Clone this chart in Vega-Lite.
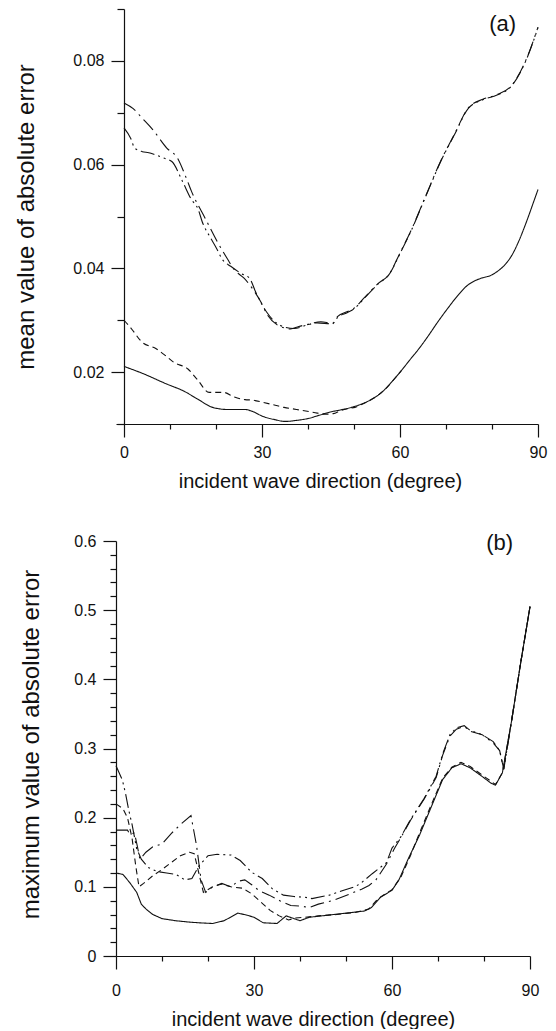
{
  "$schema": "https://vega.github.io/schema/vega-lite/v6.json",
  "background": "white",
  "padding": {"left": 14, "top": 1, "right": 5, "bottom": 0},
  "config": {
    "view": {"stroke": null},
    "font": "Liberation Sans",
    "axis": {
      "grid": false,
      "domainColor": "#111",
      "tickColor": "#111",
      "labelColor": "#111",
      "titleColor": "#111",
      "domainWidth": 1.2,
      "tickWidth": 1.2,
      "labelFont": "Liberation Sans",
      "titleFont": "Liberation Sans",
      "labelFontSize": 16,
      "titleFontWeight": "normal",
      "labelFlush": false,
      "labelOverlap": false
    }
  },
  "datasets": {
    "a": [
      {"deg": 0, "err": 0.0211, "s": "solid"}, {"deg": 3.9, "err": 0.0198, "s": "solid"}, {"deg": 9.3, "err": 0.0177, "s": "solid"}, {"deg": 13.1, "err": 0.0163, "s": "solid"}, {"deg": 16, "err": 0.0148, "s": "solid"}, {"deg": 19.3, "err": 0.0132, "s": "solid"}, {"deg": 22.4, "err": 0.0128, "s": "solid"}, {"deg": 26.3, "err": 0.0128, "s": "solid"}, {"deg": 28, "err": 0.0124, "s": "solid"}, {"deg": 30.1, "err": 0.0115, "s": "solid"}, {"deg": 32.5, "err": 0.0109, "s": "solid"}, {"deg": 35.1, "err": 0.0105, "s": "solid"}, {"deg": 37.5, "err": 0.0107, "s": "solid"}, {"deg": 40.2, "err": 0.0111, "s": "solid"}, {"deg": 42.5, "err": 0.0117, "s": "solid"}, {"deg": 44.8, "err": 0.0123, "s": "solid"}, {"deg": 47, "err": 0.0127, "s": "solid"}, {"deg": 49.4, "err": 0.0132, "s": "solid"}, {"deg": 51.5, "err": 0.0138, "s": "solid"}, {"deg": 53.3, "err": 0.0145, "s": "solid"}, {"deg": 55, "err": 0.0154, "s": "solid"}, {"deg": 56.4, "err": 0.0164, "s": "solid"}, {"deg": 58.3, "err": 0.0182, "s": "solid"}, {"deg": 60.3, "err": 0.0203, "s": "solid"}, {"deg": 62, "err": 0.0222, "s": "solid"}, {"deg": 64.1, "err": 0.0245, "s": "solid"}, {"deg": 66, "err": 0.0268, "s": "solid"}, {"deg": 68, "err": 0.0294, "s": "solid"}, {"deg": 70.3, "err": 0.0322, "s": "solid"}, {"deg": 72.6, "err": 0.0348, "s": "solid"}, {"deg": 74.5, "err": 0.0366, "s": "solid"}, {"deg": 76.5, "err": 0.0377, "s": "solid"}, {"deg": 78, "err": 0.0382, "s": "solid"}, {"deg": 79.6, "err": 0.0386, "s": "solid"}, {"deg": 81, "err": 0.0393, "s": "solid"}, {"deg": 82.7, "err": 0.0406, "s": "solid"}, {"deg": 84.3, "err": 0.0425, "s": "solid"}, {"deg": 85.8, "err": 0.0452, "s": "solid"}, {"deg": 87.5, "err": 0.049, "s": "solid"}, {"deg": 89, "err": 0.0527, "s": "solid"}, {"deg": 90, "err": 0.0552, "s": "solid"},
      {"deg": 0, "err": 0.03, "s": "dashed"}, {"deg": 1.5, "err": 0.0285, "s": "dashed"}, {"deg": 3.9, "err": 0.0258, "s": "dashed"}, {"deg": 7, "err": 0.0245, "s": "dashed"}, {"deg": 9, "err": 0.0232, "s": "dashed"}, {"deg": 10.8, "err": 0.0219, "s": "dashed"}, {"deg": 13.9, "err": 0.0206, "s": "dashed"}, {"deg": 16, "err": 0.0185, "s": "dashed"}, {"deg": 18.5, "err": 0.0161, "s": "dashed"}, {"deg": 21.6, "err": 0.0161, "s": "dashed"}, {"deg": 24, "err": 0.0152, "s": "dashed"}, {"deg": 26.3, "err": 0.0147, "s": "dashed"}, {"deg": 28, "err": 0.0146, "s": "dashed"}, {"deg": 30.1, "err": 0.0142, "s": "dashed"}, {"deg": 32.5, "err": 0.0137, "s": "dashed"}, {"deg": 34.8, "err": 0.0132, "s": "dashed"}, {"deg": 37.5, "err": 0.0128, "s": "dashed"}, {"deg": 40.2, "err": 0.0124, "s": "dashed"}, {"deg": 42, "err": 0.0121, "s": "dashed"}, {"deg": 44, "err": 0.0119, "s": "dashed"}, {"deg": 45.5, "err": 0.012, "s": "dashed"}, {"deg": 47.1, "err": 0.0126, "s": "dashed"}, {"deg": 49, "err": 0.013, "s": "dashed"}, {"deg": 50.2, "err": 0.0132, "s": "dashed"}, {"deg": 51.5, "err": 0.0137, "s": "dashed"}, {"deg": 53.3, "err": 0.0145, "s": "dashed"}, {"deg": 55, "err": 0.0154, "s": "dashed"}, {"deg": 56.4, "err": 0.0164, "s": "dashed"}, {"deg": 58.3, "err": 0.0182, "s": "dashed"}, {"deg": 60.3, "err": 0.0203, "s": "dashed"},
      {"deg": 0, "err": 0.0719, "s": "dashdot"}, {"deg": 2, "err": 0.0708, "s": "dashdot"}, {"deg": 3.9, "err": 0.069, "s": "dashdot"}, {"deg": 6.2, "err": 0.0668, "s": "dashdot"}, {"deg": 9.3, "err": 0.0632, "s": "dashdot"}, {"deg": 11.6, "err": 0.0613, "s": "dashdot"}, {"deg": 13.5, "err": 0.0575, "s": "dashdot"}, {"deg": 14.7, "err": 0.0548, "s": "dashdot"}, {"deg": 17.8, "err": 0.0494, "s": "dashdot"}, {"deg": 20.3, "err": 0.0451, "s": "dashdot"}, {"deg": 22.5, "err": 0.0418, "s": "dashdot"}, {"deg": 24, "err": 0.0397, "s": "dashdot"}, {"deg": 26.1, "err": 0.0381, "s": "dashdot"}, {"deg": 28, "err": 0.036, "s": "dashdot"}, {"deg": 29.7, "err": 0.0336, "s": "dashdot"}, {"deg": 31.2, "err": 0.031, "s": "dashdot"}, {"deg": 33.3, "err": 0.0291, "s": "dashdot"}, {"deg": 35, "err": 0.0285, "s": "dashdot"}, {"deg": 36.2, "err": 0.0283, "s": "dashdot"}, {"deg": 38, "err": 0.0288, "s": "dashdot"}, {"deg": 40, "err": 0.0292, "s": "dashdot"}, {"deg": 42.8, "err": 0.0297, "s": "dashdot"}, {"deg": 45.3, "err": 0.0294, "s": "dashdot"}, {"deg": 46.4, "err": 0.0307, "s": "dashdot"}, {"deg": 48.6, "err": 0.0317, "s": "dashdot"}, {"deg": 50, "err": 0.0323, "s": "dashdot"}, {"deg": 52.2, "err": 0.0343, "s": "dashdot"}, {"deg": 55.4, "err": 0.0372, "s": "dashdot"}, {"deg": 57.6, "err": 0.0388, "s": "dashdot"}, {"deg": 59.8, "err": 0.0426, "s": "dashdot"}, {"deg": 62.6, "err": 0.0477, "s": "dashdot"}, {"deg": 65.7, "err": 0.0542, "s": "dashdot"}, {"deg": 68.8, "err": 0.0606, "s": "dashdot"}, {"deg": 71.8, "err": 0.0658, "s": "dashdot"}, {"deg": 74.9, "err": 0.071, "s": "dashdot"}, {"deg": 78, "err": 0.0726, "s": "dashdot"}, {"deg": 81.1, "err": 0.0735, "s": "dashdot"}, {"deg": 84.2, "err": 0.0752, "s": "dashdot"}, {"deg": 87.3, "err": 0.08, "s": "dashdot"}, {"deg": 90, "err": 0.0865, "s": "dashdot"},
      {"deg": 0, "err": 0.0671, "s": "dashdotdot"}, {"deg": 1.5, "err": 0.065, "s": "dashdotdot"}, {"deg": 2.3, "err": 0.0632, "s": "dashdotdot"}, {"deg": 4, "err": 0.0625, "s": "dashdotdot"}, {"deg": 5.4, "err": 0.0623, "s": "dashdotdot"}, {"deg": 6.5, "err": 0.062, "s": "dashdotdot"}, {"deg": 8.5, "err": 0.0613, "s": "dashdotdot"}, {"deg": 10.4, "err": 0.0606, "s": "dashdotdot"}, {"deg": 12.7, "err": 0.0568, "s": "dashdotdot"}, {"deg": 14.5, "err": 0.0535, "s": "dashdotdot"}, {"deg": 16.2, "err": 0.0512, "s": "dashdotdot"}, {"deg": 17, "err": 0.049, "s": "dashdotdot"}, {"deg": 18.8, "err": 0.0459, "s": "dashdotdot"}, {"deg": 20.1, "err": 0.0439, "s": "dashdotdot"}, {"deg": 21.4, "err": 0.0417, "s": "dashdotdot"}, {"deg": 23.2, "err": 0.0404, "s": "dashdotdot"}, {"deg": 25.5, "err": 0.039, "s": "dashdotdot"}, {"deg": 27.3, "err": 0.0381, "s": "dashdotdot"}, {"deg": 28.6, "err": 0.0355, "s": "dashdotdot"}, {"deg": 31, "err": 0.0316, "s": "dashdotdot"}, {"deg": 34, "err": 0.029, "s": "dashdotdot"}, {"deg": 37, "err": 0.0284, "s": "dashdotdot"}, {"deg": 39.5, "err": 0.029, "s": "dashdotdot"}, {"deg": 42, "err": 0.0295, "s": "dashdotdot"}, {"deg": 45.3, "err": 0.0293, "s": "dashdotdot"}, {"deg": 46.4, "err": 0.0305, "s": "dashdotdot"}, {"deg": 48.6, "err": 0.0315, "s": "dashdotdot"}, {"deg": 50, "err": 0.0322, "s": "dashdotdot"}, {"deg": 52.2, "err": 0.0342, "s": "dashdotdot"}, {"deg": 55.4, "err": 0.0371, "s": "dashdotdot"}, {"deg": 57.6, "err": 0.0388, "s": "dashdotdot"}, {"deg": 59.8, "err": 0.0425, "s": "dashdotdot"}, {"deg": 62.6, "err": 0.0476, "s": "dashdotdot"}, {"deg": 65.7, "err": 0.0541, "s": "dashdotdot"}, {"deg": 68.8, "err": 0.0605, "s": "dashdotdot"}, {"deg": 71.8, "err": 0.0657, "s": "dashdotdot"}, {"deg": 74.9, "err": 0.0709, "s": "dashdotdot"}, {"deg": 78, "err": 0.0725, "s": "dashdotdot"}, {"deg": 81.1, "err": 0.0734, "s": "dashdotdot"}, {"deg": 84.2, "err": 0.0751, "s": "dashdotdot"}, {"deg": 87.3, "err": 0.0799, "s": "dashdotdot"}, {"deg": 90, "err": 0.0864, "s": "dashdotdot"}
    ],
    "b": [
      {"deg": 0, "err": 0.12, "s": "solid"}, {"deg": 1.5, "err": 0.118, "s": "solid"}, {"deg": 3, "err": 0.106, "s": "solid"}, {"deg": 4.5, "err": 0.092, "s": "solid"}, {"deg": 5.5, "err": 0.075, "s": "solid"}, {"deg": 6.5, "err": 0.068, "s": "solid"}, {"deg": 8, "err": 0.06, "s": "solid"}, {"deg": 10, "err": 0.054, "s": "solid"}, {"deg": 13, "err": 0.051, "s": "solid"}, {"deg": 16, "err": 0.049, "s": "solid"}, {"deg": 18, "err": 0.048, "s": "solid"}, {"deg": 21, "err": 0.047, "s": "solid"}, {"deg": 23.5, "err": 0.051, "s": "solid"}, {"deg": 26.5, "err": 0.062, "s": "solid"}, {"deg": 28.5, "err": 0.059, "s": "solid"}, {"deg": 30, "err": 0.056, "s": "solid"}, {"deg": 32, "err": 0.048, "s": "solid"}, {"deg": 35, "err": 0.047, "s": "solid"}, {"deg": 37, "err": 0.058, "s": "solid"}, {"deg": 40, "err": 0.051, "s": "solid"}, {"deg": 42, "err": 0.056, "s": "solid"}, {"deg": 46, "err": 0.059, "s": "solid"}, {"deg": 50, "err": 0.062, "s": "solid"}, {"deg": 54, "err": 0.065, "s": "solid"}, {"deg": 55.5, "err": 0.07, "s": "solid"}, {"deg": 57.5, "err": 0.085, "s": "solid"}, {"deg": 60, "err": 0.095, "s": "solid"}, {"deg": 61.5, "err": 0.11, "s": "solid"}, {"deg": 63.5, "err": 0.14, "s": "solid"}, {"deg": 66, "err": 0.175, "s": "solid"}, {"deg": 68.5, "err": 0.215, "s": "solid"}, {"deg": 71, "err": 0.255, "s": "solid"}, {"deg": 73, "err": 0.272, "s": "solid"}, {"deg": 75, "err": 0.278, "s": "solid"}, {"deg": 77, "err": 0.272, "s": "solid"}, {"deg": 79.5, "err": 0.26, "s": "solid"}, {"deg": 81.5, "err": 0.25, "s": "solid"}, {"deg": 82.5, "err": 0.247, "s": "solid"}, {"deg": 84, "err": 0.265, "s": "solid"}, {"deg": 86, "err": 0.34, "s": "solid"}, {"deg": 88, "err": 0.425, "s": "solid"}, {"deg": 90, "err": 0.505, "s": "solid"},
      {"deg": 0, "err": 0.22, "s": "dashed"}, {"deg": 1.5, "err": 0.213, "s": "dashed"}, {"deg": 2.5, "err": 0.2, "s": "dashed"}, {"deg": 3.5, "err": 0.17, "s": "dashed"}, {"deg": 4.3, "err": 0.13, "s": "dashed"}, {"deg": 5, "err": 0.1, "s": "dashed"}, {"deg": 6, "err": 0.105, "s": "dashed"}, {"deg": 8, "err": 0.116, "s": "dashed"}, {"deg": 10, "err": 0.125, "s": "dashed"}, {"deg": 12, "err": 0.135, "s": "dashed"}, {"deg": 14, "err": 0.145, "s": "dashed"}, {"deg": 16, "err": 0.15, "s": "dashed"}, {"deg": 17, "err": 0.148, "s": "dashed"}, {"deg": 18, "err": 0.12, "s": "dashed"}, {"deg": 19, "err": 0.092, "s": "dashed"}, {"deg": 21, "err": 0.1, "s": "dashed"}, {"deg": 23, "err": 0.104, "s": "dashed"}, {"deg": 25, "err": 0.1, "s": "dashed"}, {"deg": 27.5, "err": 0.098, "s": "dashed"}, {"deg": 29.5, "err": 0.09, "s": "dashed"}, {"deg": 31.5, "err": 0.078, "s": "dashed"}, {"deg": 33.5, "err": 0.066, "s": "dashed"}, {"deg": 35.5, "err": 0.058, "s": "dashed"}, {"deg": 37.5, "err": 0.052, "s": "dashed"}, {"deg": 39, "err": 0.055, "s": "dashed"}, {"deg": 41, "err": 0.056, "s": "dashed"}, {"deg": 44, "err": 0.058, "s": "dashed"}, {"deg": 48, "err": 0.06, "s": "dashed"}, {"deg": 52, "err": 0.063, "s": "dashed"}, {"deg": 55, "err": 0.068, "s": "dashed"}, {"deg": 57, "err": 0.083, "s": "dashed"}, {"deg": 60, "err": 0.096, "s": "dashed"}, {"deg": 62, "err": 0.115, "s": "dashed"}, {"deg": 64, "err": 0.145, "s": "dashed"}, {"deg": 66, "err": 0.178, "s": "dashed"}, {"deg": 68.5, "err": 0.218, "s": "dashed"}, {"deg": 71, "err": 0.257, "s": "dashed"}, {"deg": 73, "err": 0.273, "s": "dashed"}, {"deg": 75, "err": 0.28, "s": "dashed"}, {"deg": 77, "err": 0.274, "s": "dashed"}, {"deg": 79.5, "err": 0.262, "s": "dashed"}, {"deg": 82.5, "err": 0.248, "s": "dashed"}, {"deg": 84, "err": 0.265, "s": "dashed"}, {"deg": 86, "err": 0.34, "s": "dashed"}, {"deg": 88, "err": 0.425, "s": "dashed"}, {"deg": 90, "err": 0.505, "s": "dashed"},
      {"deg": 0, "err": 0.182, "s": "dashdot"}, {"deg": 2.5, "err": 0.182, "s": "dashdot"}, {"deg": 3, "err": 0.176, "s": "dashdot"}, {"deg": 4, "err": 0.178, "s": "dashdot"}, {"deg": 4.6, "err": 0.16, "s": "dashdot"}, {"deg": 5.2, "err": 0.14, "s": "dashdot"}, {"deg": 6.5, "err": 0.15, "s": "dashdot"}, {"deg": 8, "err": 0.158, "s": "dashdot"}, {"deg": 10, "err": 0.162, "s": "dashdot"}, {"deg": 12, "err": 0.177, "s": "dashdot"}, {"deg": 14, "err": 0.19, "s": "dashdot"}, {"deg": 16.3, "err": 0.203, "s": "dashdot"}, {"deg": 17.5, "err": 0.16, "s": "dashdot"}, {"deg": 18.5, "err": 0.11, "s": "dashdot"}, {"deg": 19.5, "err": 0.092, "s": "dashdot"}, {"deg": 21, "err": 0.1, "s": "dashdot"}, {"deg": 23, "err": 0.105, "s": "dashdot"}, {"deg": 25, "err": 0.1, "s": "dashdot"}, {"deg": 26.5, "err": 0.108, "s": "dashdot"}, {"deg": 28, "err": 0.11, "s": "dashdot"}, {"deg": 29.5, "err": 0.103, "s": "dashdot"}, {"deg": 31, "err": 0.095, "s": "dashdot"}, {"deg": 33.3, "err": 0.088, "s": "dashdot"}, {"deg": 35.6, "err": 0.08, "s": "dashdot"}, {"deg": 38, "err": 0.073, "s": "dashdot"}, {"deg": 40.3, "err": 0.072, "s": "dashdot"}, {"deg": 42, "err": 0.07, "s": "dashdot"}, {"deg": 44, "err": 0.075, "s": "dashdot"}, {"deg": 47, "err": 0.08, "s": "dashdot"}, {"deg": 51, "err": 0.09, "s": "dashdot"}, {"deg": 53.5, "err": 0.097, "s": "dashdot"}, {"deg": 55, "err": 0.102, "s": "dashdot"}, {"deg": 56.5, "err": 0.11, "s": "dashdot"}, {"deg": 58.8, "err": 0.133, "s": "dashdot"}, {"deg": 60.5, "err": 0.155, "s": "dashdot"}, {"deg": 62, "err": 0.172, "s": "dashdot"}, {"deg": 64, "err": 0.196, "s": "dashdot"}, {"deg": 67, "err": 0.227, "s": "dashdot"}, {"deg": 69.6, "err": 0.258, "s": "dashdot"}, {"deg": 71, "err": 0.29, "s": "dashdot"}, {"deg": 72.6, "err": 0.318, "s": "dashdot"}, {"deg": 74, "err": 0.328, "s": "dashdot"}, {"deg": 75.7, "err": 0.332, "s": "dashdot"}, {"deg": 77, "err": 0.325, "s": "dashdot"}, {"deg": 79.6, "err": 0.32, "s": "dashdot"}, {"deg": 82, "err": 0.308, "s": "dashdot"}, {"deg": 83.4, "err": 0.297, "s": "dashdot"}, {"deg": 84.3, "err": 0.27, "s": "dashdot"}, {"deg": 86, "err": 0.34, "s": "dashdot"}, {"deg": 88, "err": 0.425, "s": "dashdot"}, {"deg": 90, "err": 0.505, "s": "dashdot"},
      {"deg": 0, "err": 0.275, "s": "dashdotdot"}, {"deg": 1.4, "err": 0.254, "s": "dashdotdot"}, {"deg": 2.1, "err": 0.234, "s": "dashdotdot"}, {"deg": 2.8, "err": 0.21, "s": "dashdotdot"}, {"deg": 3.5, "err": 0.19, "s": "dashdotdot"}, {"deg": 4.5, "err": 0.155, "s": "dashdotdot"}, {"deg": 5.5, "err": 0.14, "s": "dashdotdot"}, {"deg": 7, "err": 0.128, "s": "dashdotdot"}, {"deg": 9, "err": 0.122, "s": "dashdotdot"}, {"deg": 11, "err": 0.12, "s": "dashdotdot"}, {"deg": 13, "err": 0.118, "s": "dashdotdot"}, {"deg": 15, "err": 0.11, "s": "dashdotdot"}, {"deg": 16.5, "err": 0.112, "s": "dashdotdot"}, {"deg": 18, "err": 0.13, "s": "dashdotdot"}, {"deg": 20, "err": 0.145, "s": "dashdotdot"}, {"deg": 22, "err": 0.147, "s": "dashdotdot"}, {"deg": 25, "err": 0.146, "s": "dashdotdot"}, {"deg": 27, "err": 0.138, "s": "dashdotdot"}, {"deg": 29.5, "err": 0.121, "s": "dashdotdot"}, {"deg": 31.8, "err": 0.112, "s": "dashdotdot"}, {"deg": 34, "err": 0.097, "s": "dashdotdot"}, {"deg": 36.4, "err": 0.088, "s": "dashdotdot"}, {"deg": 38.7, "err": 0.086, "s": "dashdotdot"}, {"deg": 41, "err": 0.085, "s": "dashdotdot"}, {"deg": 42.6, "err": 0.083, "s": "dashdotdot"}, {"deg": 46.4, "err": 0.088, "s": "dashdotdot"}, {"deg": 49.5, "err": 0.095, "s": "dashdotdot"}, {"deg": 51.8, "err": 0.1, "s": "dashdotdot"}, {"deg": 53, "err": 0.104, "s": "dashdotdot"}, {"deg": 55.7, "err": 0.119, "s": "dashdotdot"}, {"deg": 58.8, "err": 0.135, "s": "dashdotdot"}, {"deg": 60, "err": 0.156, "s": "dashdotdot"}, {"deg": 62, "err": 0.173, "s": "dashdotdot"}, {"deg": 64, "err": 0.197, "s": "dashdotdot"}, {"deg": 67, "err": 0.228, "s": "dashdotdot"}, {"deg": 69.6, "err": 0.26, "s": "dashdotdot"}, {"deg": 71, "err": 0.292, "s": "dashdotdot"}, {"deg": 72.6, "err": 0.32, "s": "dashdotdot"}, {"deg": 74, "err": 0.33, "s": "dashdotdot"}, {"deg": 75.7, "err": 0.333, "s": "dashdotdot"}, {"deg": 77, "err": 0.326, "s": "dashdotdot"}, {"deg": 79.6, "err": 0.32, "s": "dashdotdot"}, {"deg": 82, "err": 0.31, "s": "dashdotdot"}, {"deg": 83.4, "err": 0.297, "s": "dashdotdot"}, {"deg": 84.3, "err": 0.27, "s": "dashdotdot"}, {"deg": 86, "err": 0.34, "s": "dashdotdot"}, {"deg": 88, "err": 0.425, "s": "dashdotdot"}, {"deg": 90, "err": 0.505, "s": "dashdotdot"}
    ],
    "labA": [{"deg": 82.3, "err": 0.0857, "label": "(a)"}],
    "labB": [{"deg": 83.4, "err": 0.5874, "label": "(b)"}]
  },
  "vconcat": [
    {
      "width": 422,
      "height": 415,
      "layer": [
        {
          "data": {"name": "a"},
          "mark": {"type": "line", "interpolate": "monotone", "strokeWidth": 1.1, "color": "#111"},
          "encoding": {
            "x": {
              "field": "deg", "type": "quantitative",
              "scale": {"domain": [-1.739, 90], "nice": false, "zero": false},
              "axis": {
                "title": "incident wave direction (degree)",
                "values": [0, 10, 20, 30, 40, 50, 60, 70, 80, 90],
                "tickCount": 40,
                "labelExpr": "datum.value % 30 === 0 ? datum.label : ''",
                "tickSize": {"condition": {"test": "datum.value % 30 === 0", "value": 13}, "value": 5},
                "labelPadding": 7,
                "titlePadding": 11,
                "titleFontSize": 20,
                "titleX": 204
              }
            },
            "y": {
              "field": "err", "type": "quantitative",
              "scale": {"domain": [0.01, 0.09], "nice": false, "zero": false},
              "axis": {
                "title": "mean value of absolute error",
                "values": [0.01, 0.02, 0.03, 0.04, 0.05, 0.06, 0.07, 0.08, 0.09],
                "tickCount": 40,
                "offset": -8,
                "format": ".2f",
                "labelExpr": "round(datum.value * 100) % 2 === 0 ? datum.label : ''",
                "tickSize": {"condition": {"test": "round(datum.value * 100) % 2 === 0", "value": 13}, "value": 7},
                "labelPadding": 7,
                "titlePadding": 34,
                "titleFontSize": 24
              }
            },
            "strokeDash": {
              "field": "s", "type": "nominal", "legend": null,
              "scale": {"domain": ["solid", "dashed", "dashdot", "dashdotdot"], "range": [[1, 0], [6, 4], [14, 5, 2, 5], [14, 4, 2, 4, 2, 4]]}
            }
          }
        },
        {
          "data": {"name": "labA"},
          "mark": {"type": "text", "fontSize": 22, "align": "center", "baseline": "alphabetic", "color": "#111", "font": "Liberation Sans"},
          "encoding": {
            "x": {"field": "deg", "type": "quantitative"},
            "y": {"field": "err", "type": "quantitative"},
            "text": {"field": "label"}
          }
        }
      ]
    },
    {
      "width": 414,
      "height": 415,
      "layer": [
        {
          "data": {"name": "b"},
          "mark": {"type": "line", "interpolate": "linear", "strokeWidth": 1.1, "color": "#111"},
          "encoding": {
            "x": {
              "field": "deg", "type": "quantitative",
              "scale": {"domain": [0, 90], "nice": false},
              "axis": {
                "title": "incident wave direction (degree)",
                "values": [0, 10, 20, 30, 40, 50, 60, 70, 80, 90],
                "tickCount": 40,
                "labelExpr": "datum.value % 30 === 0 ? datum.label : ''",
                "tickSize": {"condition": {"test": "datum.value % 30 === 0", "value": 13}, "value": 5},
                "labelPadding": 13,
                "titlePadding": 11,
                "titleFontSize": 20,
                "titleX": 197
              }
            },
            "y": {
              "field": "err", "type": "quantitative",
              "scale": {"domain": [0, 0.6], "nice": false},
              "axis": {
                "title": "maximum value of absolute error",
                "values": [0, 0.02, 0.04, 0.06, 0.08, 0.1, 0.12, 0.14, 0.16, 0.18, 0.2, 0.22, 0.24, 0.26, 0.28, 0.3, 0.32, 0.34, 0.36, 0.38, 0.4, 0.42, 0.44, 0.46, 0.48, 0.5, 0.52, 0.54, 0.56, 0.58, 0.6],
                "tickCount": 40,
                "format": ".1~f",
                "labelExpr": "round(datum.value * 100) % 10 === 0 ? datum.label : ''",
                "tickSize": {"condition": {"test": "round(datum.value * 100) % 10 === 0", "value": 13}, "value": 6},
                "labelPadding": 7,
                "titlePadding": 30,
                "titleFontSize": 24,
                "titleY": 203
              }
            },
            "strokeDash": {
              "field": "s", "type": "nominal", "legend": null,
              "scale": {"domain": ["solid", "dashed", "dashdot", "dashdotdot"], "range": [[1, 0], [6, 4], [14, 5, 2, 5], [14, 4, 2, 4, 2, 4]]}
            }
          }
        },
        {
          "data": {"name": "labB"},
          "mark": {"type": "text", "fontSize": 22, "align": "center", "baseline": "alphabetic", "color": "#111", "font": "Liberation Sans"},
          "encoding": {
            "x": {"field": "deg", "type": "quantitative"},
            "y": {"field": "err", "type": "quantitative"},
            "text": {"field": "label"}
          }
        }
      ]
    }
  ],
  "spacing": 34,
  "align": "all",
  "bounds": "full"
}
